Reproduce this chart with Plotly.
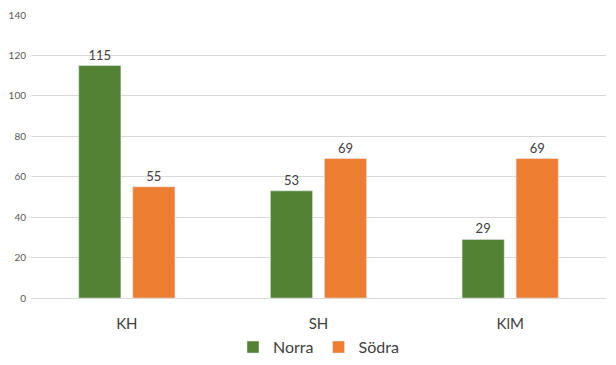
import plotly.graph_objects as go

categories = ["KH", "SH", "KlM"]
norra = [115, 53, 29]
sodra = [55, 69, 69]
y_ticks = [0, 20, 40, 60, 80, 100, 120, 140]

fig = go.Figure()
fig.add_trace(go.Bar(x=categories, y=norra, name="Norra", marker_color="#548235",
                     text=norra, textposition="outside", cliponaxis=False,
                     textfont=dict(size=13, color="#404040")))
fig.add_trace(go.Bar(x=categories, y=sodra, name="Södra", marker_color="#ED7D31",
                     text=sodra, textposition="outside", cliponaxis=False,
                     textfont=dict(size=13, color="#404040")))

fig.update_layout(
    width=608, height=357,
    margin=dict(l=23, r=10, t=7, b=67),
    paper_bgcolor="white", plot_bgcolor="white",
    font=dict(family="Lato, Open Sans, sans-serif", color="#595959"),
    barmode="group", bargap=0.436, bargroupgap=0.22,
    showlegend=True,
    legend=dict(orientation="h", x=0.5, xanchor="center", y=0.05, yanchor="middle",
                yref="container",
                font=dict(size=16, color="#404040"), itemwidth=30),
    xaxis=dict(tickfont=dict(size=15, color="#404040"), showline=True,
               linecolor="#d9d9d9", ticks="", ticklabelstandoff=12, automargin=False),
    yaxis=dict(range=[0, 140], tickvals=y_ticks, tickfont=dict(size=10, color="#595959"),
               gridcolor="#d9d9d9", zeroline=False, ticks="", ticklabelstandoff=4,
               automargin=False),
)
fig.write_html("out.html")
